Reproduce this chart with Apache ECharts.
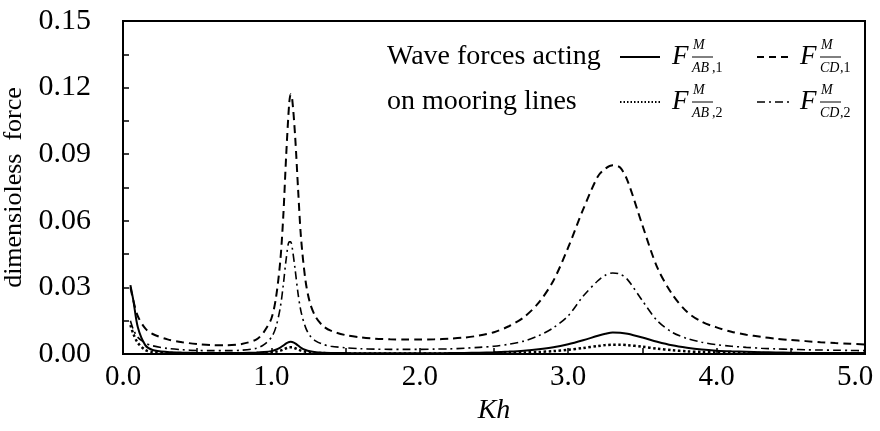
<!DOCTYPE html>
<html>
<head>
<meta charset="utf-8">
<script src="https://cdn.jsdelivr.net/npm/echarts@6/dist/echarts.min.js"></script>
<style>html,body{margin:0;padding:0;background:#fff}#c{width:880px;height:431px}</style>
</head>
<body>
<div id="c"></div>
<script>
// Kh values
var kh = [0.05,0.07,0.10,0.15,0.20,0.30,0.40,0.50,0.60,0.70,0.80,0.90,0.95,1.00,1.03,1.06,1.08,1.10,1.12,1.13,1.14,1.16,1.18,1.20,1.23,1.26,1.30,1.35,1.40,1.50,1.60,1.70,1.80,1.90,2.00,2.10,2.20,2.30,2.40,2.50,2.60,2.70,2.80,2.90,3.00,3.10,3.20,3.25,3.30,3.35,3.40,3.50,3.60,3.70,3.80,3.90,4.00,4.10,4.20,4.30,4.40,4.50,4.60,4.70,4.80,4.90,5.00];
var fCD1 = [0.030,0.024,0.017,0.0115,0.009,0.0066,0.0053,0.0045,0.0040,0.0039,0.0045,0.0066,0.010,0.016,0.025,0.042,0.062,0.090,0.113,0.117,0.115,0.098,0.074,0.052,0.033,0.023,0.0165,0.0125,0.0105,0.0085,0.0075,0.0069,0.0066,0.0065,0.0065,0.0066,0.0069,0.0074,0.0083,0.0098,0.0125,0.0165,0.023,0.033,0.048,0.065,0.080,0.0835,0.085,0.084,0.078,0.058,0.039,0.027,0.019,0.0145,0.012,0.0100,0.0087,0.0077,0.0069,0.0063,0.0058,0.0053,0.0049,0.0046,0.0043];
var fCD2 = [0.015,0.011,0.0075,0.005,0.0037,0.0025,0.0019,0.0016,0.0015,0.0015,0.0017,0.0026,0.0042,0.0075,0.012,0.021,0.031,0.043,0.0505,0.0505,0.048,0.038,0.027,0.019,0.012,0.0082,0.0058,0.0043,0.0035,0.0028,0.0024,0.0022,0.0021,0.0021,0.0021,0.0022,0.0023,0.0026,0.0030,0.0035,0.0044,0.0058,0.0082,0.0118,0.0172,0.026,0.033,0.0355,0.0365,0.036,0.0335,0.024,0.015,0.0098,0.0070,0.0053,0.0042,0.0035,0.0030,0.0026,0.0023,0.0021,0.0019,0.0018,0.0017,0.0016,0.0015];
var fAB1 = [0.031,0.024,0.012,0.004,0.0018,0.0009,0.0006,0.0005,0.0004,0.0004,0.0005,0.0007,0.0009,0.0013,0.0019,0.0029,0.0038,0.0048,0.0054,0.0055,0.0054,0.0048,0.0038,0.0028,0.0018,0.0012,0.0008,0.0006,0.0005,0.0004,0.0003,0.0003,0.0003,0.0003,0.0003,0.0003,0.0004,0.0005,0.0006,0.0008,0.0011,0.0015,0.0021,0.0030,0.0044,0.0062,0.0082,0.0091,0.0097,0.0096,0.0091,0.0074,0.0055,0.0039,0.0028,0.0020,0.0015,0.0012,0.0010,0.0008,0.0007,0.0006,0.0005,0.0005,0.0004,0.0004,0.0004];
var fAB2 = [0.013,0.009,0.005,0.0018,0.0009,0.0005,0.0003,0.0003,0.0002,0.0002,0.0003,0.0004,0.0005,0.0007,0.0010,0.0015,0.0020,0.0026,0.0030,0.0030,0.0030,0.0026,0.0020,0.0015,0.0010,0.0007,0.0005,0.0004,0.0003,0.0002,0.0002,0.0002,0.0002,0.0002,0.0002,0.0002,0.0002,0.0003,0.0003,0.0004,0.0005,0.0007,0.0009,0.0013,0.0019,0.0027,0.0036,0.0040,0.0042,0.0042,0.0040,0.0033,0.0024,0.0017,0.0012,0.0009,0.0007,0.0005,0.0004,0.0004,0.0003,0.0003,0.0003,0.0002,0.0002,0.0002,0.0002];
var seriesNames = ['AB1','AB2','CD1','CD2'];
var xTicks = [0,1,2,3,4,5];
var yTicks = [0,0.03,0.06,0.09,0.12,0.15];

function pairs(ys){ return kh.map(function(x,i){ return [x, ys[i]]; }); }

var FONT = '"Liberation Serif", "Times New Roman", serif';
var chart = echarts.init(document.getElementById('c'), null, {renderer:'canvas'});

function legendLabel(x, y, sub, num){
  return {
    type:'group', children:[
      {type:'text', style:{text:'F', x:x, y:y, fontFamily:FONT, fontStyle:'italic', fontSize:27, fill:'#000', verticalAlign:'middle', align:'left'}},
      {type:'text', style:{text:'M', x:x+21, y:y-12, fontFamily:FONT, fontStyle:'italic', fontSize:14, fill:'#000', verticalAlign:'middle', align:'left'}},
      {type:'line', shape:{x1:x+20, y1:y, x2:x+20+sub.length*10.5, y2:y}, style:{stroke:'#000', lineWidth:1}},
      {type:'text', style:{text:sub, x:x+20, y:y+11, fontFamily:FONT, fontStyle:'italic', fontSize:14, fill:'#000', verticalAlign:'middle', align:'left'}},
      {type:'text', style:{text:','+num, x:x+20+sub.length*10, y:y+11, fontFamily:FONT, fontSize:14, fill:'#000', verticalAlign:'middle', align:'left'}}
    ]
  };
}

var dashType = [8,5];
var dotType = [2.5,2.5];
var dashDotType = [8,4,2,4];

var option = {
  animation:false,
  backgroundColor:'#fff',
  grid:{left:123, right:15, top:21, bottom:77, show:true, borderColor:'#000', borderWidth:2, containLabel:false, outerBoundsMode:'none'},
  xAxis:{
    type:'value', min:0, max:5, interval:1,
    name:'Kh', nameLocation:'middle', nameGap:40,
    nameTextStyle:{fontFamily:FONT, fontStyle:'italic', fontSize:28, color:'#000'},
    axisLine:{lineStyle:{color:'#000', width:2}},
    axisTick:{inside:true, length:6, lineStyle:{color:'#000', width:1.5}},
    minorTick:{show:true, splitNumber:2, length:6, lineStyle:{color:'#000', width:1.5}},
    splitLine:{show:false},
    axisLabel:{fontFamily:FONT, fontSize:29, color:'#000', margin:9,
      formatter:function(v){ return v === 5 ? '{m|' + v.toFixed(1) + '}' : v.toFixed(1); },
      rich:{m:{fontFamily:FONT, fontSize:29, color:'#000', padding:[0,20,0,0]}}}
  },
  yAxis:{
    type:'value', min:0, max:0.15, interval:0.03,
    name:'dimensioless  force', nameLocation:'middle', nameGap:83,
    nameTextStyle:{fontFamily:FONT, fontSize:26, color:'#000'},
    axisLine:{show:true, lineStyle:{color:'#000', width:2}},
    axisTick:{show:true, inside:true, length:6, lineStyle:{color:'#000', width:1.5}},
    minorTick:{show:true, splitNumber:2, length:6, lineStyle:{color:'#000', width:1.5}},
    splitLine:{show:false},
    axisLabel:{fontFamily:FONT, fontSize:30, color:'#000', margin:32, formatter:function(v){return v.toFixed(2);}}
  },
  series:[
    {name:seriesNames[0], type:'line', data:pairs(fAB1), showSymbol:false, smooth:0.3, lineStyle:{color:'#000', width:2, type:'solid'}},
    {name:seriesNames[1], type:'line', data:pairs(fAB2), showSymbol:false, smooth:0.3, lineStyle:{color:'#000', width:2.5, type:dotType}},
    {name:seriesNames[2], type:'line', data:pairs(fCD1), showSymbol:false, smooth:0.3, lineStyle:{color:'#000', width:2, type:dashType}},
    {name:seriesNames[3], type:'line', data:pairs(fCD2), showSymbol:false, smooth:0.3, lineStyle:{color:'#000', width:1.6, type:dashDotType}}
  ],
  graphic:[
    {type:'text', style:{text:'Wave forces acting', x:387, y:57, fontFamily:FONT, fontSize:28, fill:'#000', verticalAlign:'middle', align:'left'}},
    {type:'text', style:{text:'on mooring lines', x:387, y:102, fontFamily:FONT, fontSize:28, fill:'#000', verticalAlign:'middle', align:'left'}},
    {type:'line', shape:{x1:620, y1:57, x2:660, y2:57}, style:{stroke:'#000', lineWidth:2}},
    {type:'line', shape:{x1:620, y1:102, x2:660, y2:102}, style:{stroke:'#000', lineWidth:2, lineDash:[1.5,2]}},
    {type:'line', shape:{x1:757, y1:57, x2:789, y2:57}, style:{stroke:'#000', lineWidth:2, lineDash:[7,5]}},
    {type:'line', shape:{x1:757, y1:102, x2:789, y2:102}, style:{stroke:'#000', lineWidth:1.6, lineDash:dashDotType}},
    legendLabel(672, 57, 'AB', '1'),
    legendLabel(800, 57, 'CD', '1'),
    legendLabel(672, 102, 'AB', '2'),
    legendLabel(800, 102, 'CD', '2')
  ]
};
chart.setOption(option);
</script>
</body>
</html>
